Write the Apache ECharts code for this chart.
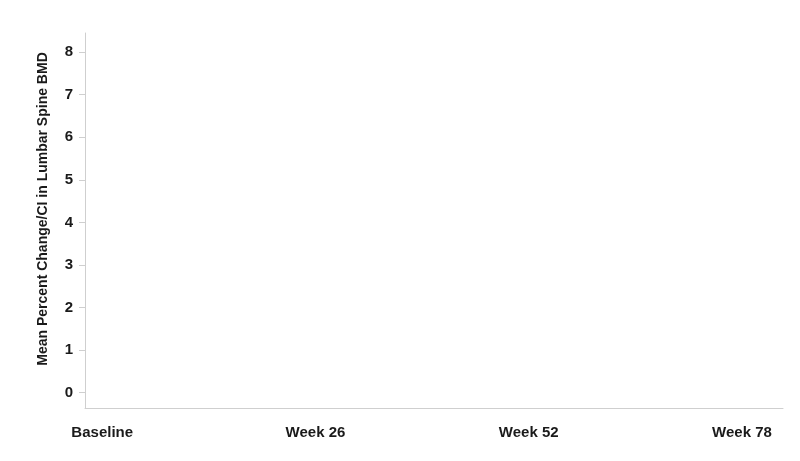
<!DOCTYPE html>
<html>
<head>
<meta charset="utf-8">
<title>Lumbar Spine BMD</title>
<script src="https://cdn.jsdelivr.net/npm/echarts@6/dist/echarts.min.js"></script>
<style>
  html, body { margin: 0; padding: 0; background: #fff; }
  #chart { width: 800px; height: 461px; }
</style>
</head>
<body>
<div id="chart"></div>
<script>
// categories along the x axis and the week each one sits at
const categories = ['Baseline', 'Week 26', 'Week 52', 'Week 78'];
const weeks = [0, 26, 52, 78];
// y tick labels
const yTicks = [0, 1, 2, 3, 4, 5, 6, 7, 8];
// the reference shows no plotted values yet
const meanChange = [];

const font = '"Liberation Sans", Arial, sans-serif';
const chart = echarts.init(document.getElementById('chart'));

chart.setOption({
    animation: false,
    grid: { left: 85, right: 17, top: 33, bottom: 53 },
    graphic: [{
        type: 'text',
        x: 43,
        y: 209,
        rotation: Math.PI / 2,
        style: {
            text: 'Mean Percent Change/CI in Lumbar Spine BMD',
            align: 'center',
            verticalAlign: 'middle',
            fontFamily: font,
            fontWeight: 'bold',
            fontSize: 14,
            fill: '#1a1a1a',
        },
    }],
    xAxis: {
        type: 'value',
        min: -2.1,
        max: 83,
        splitLine: { show: false },
        axisLine: { show: true, onZero: false, lineStyle: { color: '#cfcfcf', width: 1 } },
        axisTick: { show: false },
        axisLabel: {
            customValues: weeks,
            margin: 17,
            fontFamily: font,
            fontWeight: 'bold',
            fontSize: 15,
            color: '#1a1a1a',
            formatter: (v) => categories[weeks.indexOf(v)] || '',
        },
    },
    yAxis: {
        type: 'value',
        min: -0.36,
        max: 8.45,
        splitLine: { show: false },
        axisLine: { show: true, onZero: false, lineStyle: { color: '#cfcfcf', width: 1 } },
        axisTick: {
            show: true,
            customValues: yTicks,
            length: 6,
            lineStyle: { color: '#cfcfcf' },
        },
        axisLabel: {
            customValues: yTicks,
            margin: 12,
            fontFamily: font,
            fontWeight: 'bold',
            fontSize: 15,
            color: '#1a1a1a',
        },
    },
    series: [{
        type: 'line',
        data: meanChange,
    }],
});
</script>
</body>
</html>
